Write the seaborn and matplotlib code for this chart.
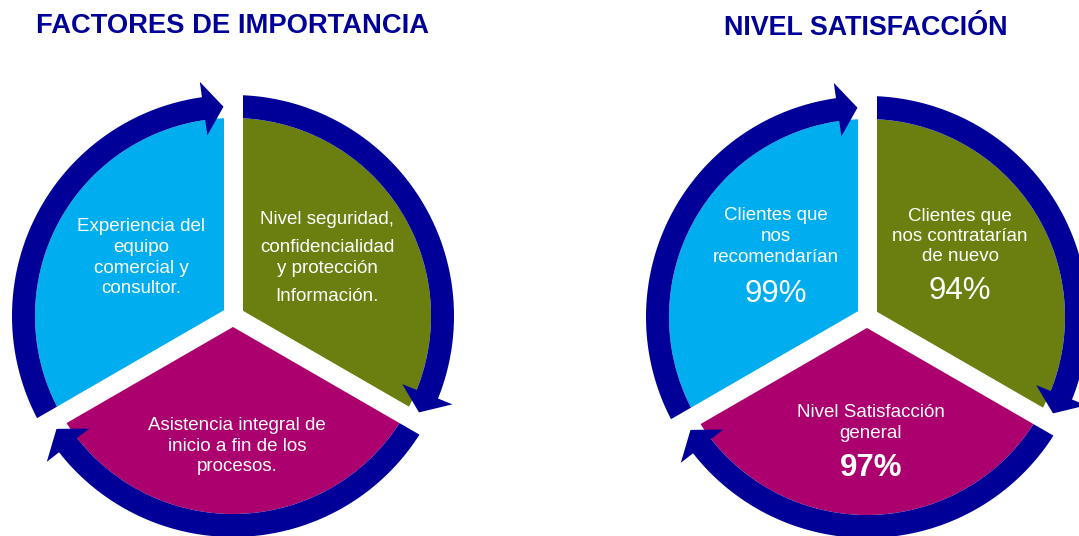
import numpy as np
import matplotlib.pyplot as plt
from matplotlib.patches import Polygon
import seaborn as sns

# data
titles = ["FACTORES DE IMPORTANCIA", "NIVEL SATISFACCIÓN"]
factor_labels = [["Experiencia del", "equipo", "comercial y", "consultor."],
                 ["Nivel seguridad,", "confidencialidad", "y protección", "Información."],
                 ["Asistencia integral de", "inicio a fin de los", "procesos."]]
satisf_labels = [["Clientes que", "nos", "recomendarían"],
                 ["Clientes que", "nos contratarían", "de nuevo"],
                 ["Nivel Satisfacción", "general"]]
satisf_values = [99, 94, 97]
sector_shares = [1, 1, 1]
sector_colors = ["#00AEEF", "#6A7F10", "#AC006E"]

# layout (image pixels, y measured from top)
W, H = 1079, 536
R_IN, R_OUT = 198, 221
GAP = 19
HEAD_L, HEAD_W = 20, 54
NAVY = "#000099"
centers = [(233, 316), (867, 317)]

sns.set_theme(style="white")
plt.rcParams['font.family'] = ['Liberation Sans', 'DejaVu Sans']

fig = plt.figure(figsize=(W / 100, H / 100), dpi=100)
ax = fig.add_axes([0, 0, 1, 1])


def ring_arrow(ax, cx, cy, a0, a1):
    # clockwise band from a0 to a1 with an arrow head at a1
    rm = (R_IN + R_OUT) / 2
    off = np.degrees(np.arcsin(GAP / 2 / rm))
    tip = a1 + off
    base = tip + np.degrees(HEAD_L / rm)
    arc = np.radians(np.linspace(a0, base, 90))
    outer = np.c_[cx + R_OUT * np.cos(arc), cy + R_OUT * np.sin(arc)]
    inner = np.c_[cx + R_IN * np.cos(arc), cy + R_IN * np.sin(arc)]
    t, b = np.radians(tip), np.radians(base)
    head = np.array([
        [cx + (rm + HEAD_W / 2) * np.cos(b), cy + (rm + HEAD_W / 2) * np.sin(b)],
        [cx + rm * np.cos(t), cy + rm * np.sin(t)],
        [cx + (rm - HEAD_W / 2) * np.cos(b), cy + (rm - HEAD_W / 2) * np.sin(b)],
    ])
    pts = np.vstack([outer, head, inner[::-1]])
    ax.add_patch(Polygon(pts, closed=True, fc=NAVY, ec='none', zorder=3))


def gap_bars(ax, cx, cy):
    for ang in (90, 210, 330):
        a = np.radians(ang)
        d = np.array([np.cos(a), np.sin(a)])
        n = np.array([-np.sin(a), np.cos(a)])
        c = np.array([cx, cy])
        pts = [c - 1 * d + GAP / 2 * n, c + 250 * d + GAP / 2 * n,
               c + 250 * d - GAP / 2 * n, c - 1 * d - GAP / 2 * n]
        ax.add_patch(Polygon(pts, closed=True, fc='white', ec='none', zorder=4))


for (cx, cy) in centers:
    cyy = H - cy
    ax.pie(sector_shares, colors=sector_colors, startangle=210, counterclock=False,
           radius=R_IN, center=(cx, cyy), frame=True,
           wedgeprops=dict(linewidth=0, zorder=2))
    ring_arrow(ax, cx, cyy, 210, 90)
    ring_arrow(ax, cx, cyy, 90, -30)
    ring_arrow(ax, cx, cyy, -30, -150)
    gap_bars(ax, cx, cyy)

# titles
ax.text(233, H - 33, titles[0], ha='center', va='baseline', fontsize=19.7,
        fontweight='bold', color=NAVY, zorder=6)
ax.text(866, H - 35, titles[1], ha='center', va='baseline', fontsize=19.4,
        fontweight='bold', color=NAVY, zorder=6)

# sector texts, left diagram
factor_pos = [(141, [231, 252, 273, 293]),
              (327, [224, 252, 273, 301]),
              (237, [430, 451, 471])]
for lines, (x, ys) in zip(factor_labels, factor_pos):
    for line, y in zip(lines, ys):
        ax.text(x, H - y, line, ha='center', va='baseline', fontsize=13.5,
                color='white', zorder=6)

# sector texts, right diagram
satisf_pos = [(776, [220, 241, 262], 302, 'normal'),
              (960, [221, 241, 261], 299, 'normal'),
              (871, [417, 438], 476, 'bold')]
for lines, val, (x, ys, yv, wt) in zip(satisf_labels, satisf_values, satisf_pos):
    for line, y in zip(lines, ys):
        ax.text(x, H - y, line, ha='center', va='baseline', fontsize=13.5,
                color='white', zorder=6)
    ax.text(x, H - yv, f"{val}%", ha='center', va='baseline', fontsize=22.5,
            fontweight=wt, color='white', zorder=6)

ax.set_xlim(0, W)
ax.set_ylim(0, H)
ax.set_aspect('auto')
ax.axis('off')
fig.savefig("out.png", dpi=100, facecolor='white')
